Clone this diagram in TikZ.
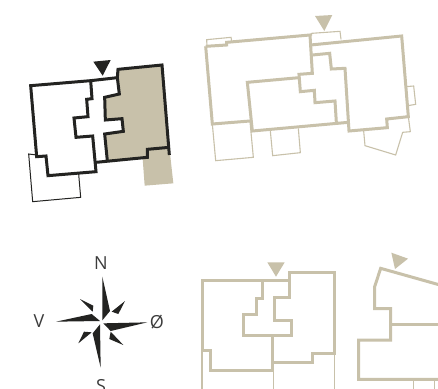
\documentclass[tikz,border=0pt]{standalone}
\usepackage{fontspec}
\setmainfont{Open Sans}
\definecolor{tan}{HTML}{C8C1AA}
\definecolor{ink}{HTML}{232321}
\definecolor{lab}{HTML}{3C3C3C}
\tikzset{
  zoomed/.style={x=0.33333pt,y=-0.33333pt},
  wallk/.style={draw=ink,line width=3pt,line join=miter},
  think/.style={draw=ink,line width=1pt,line join=miter},
  wallt/.style={draw=tan,line width=3pt,line join=miter},
  thint/.style={draw=tan,line width=1.1pt,line join=miter},
  lbl/.style={text=lab,font=\fontsize{18}{21}\selectfont,inner sep=0pt}
}
\begin{document}
\begin{tikzpicture}[x=1pt,y=-1pt]
\clip (0,0) rectangle (438,388);
\fill[white] (0,0) rectangle (438,388);
% plan 1
\begin{scope}[xshift=10pt,yshift=-40pt,zoomed]
\fill[tan] (324,88)--(456,75)--(478,322)--(490,430)--(404,437)--(398,356)--(292,362)--(284,282)--(340,274)--(336,236)--(286,240)--(284,172)--(328,162)--cycle;
\draw[think] (80,345)--(56,342)--(68,485)--(212,472)--(206,402);
\draw[wallk] (62,137)--(242,122)--(246,176)--(230,178)--(234,230)--(192,234)--(198,292)--(248,288)--(258,395)--(114,407)--(108,348)--(80,350)--cycle;
\draw[wallk] (242,122)--(322,113)--(324,88)--(456,75)--(478,345);
\draw[wallk] (478,322)--(412,328)--(412,352)--(258,367);
\draw[wallk] (322,113)--(328,162)--(284,172)--(286,240)--(336,236)--(340,274)--(284,282)--(292,362);
\fill[ink] (250,65)--(302,60)--(278,107)--cycle;
\end{scope}
% plan 2, left part
\begin{scope}[xshift=195pt,yshift=-5pt,zoomed]
\draw[thint] (36,125)--(35,104)--(108,97)--(110,108);
\draw[thint] (52,357)--(62,467)--(175,457)--(165,350);
\draw[thint] (226,378)--(233,452)--(316,443)--(310,370);
\draw[wallt] (32,124)--(95,120)--(95,112)--(345,90)--(352,205)--(312,208)--(316,260)--(358,256)--(360,293)--(420,288)--(424,352);
\draw[wallt] (32,124)--(52,357)--(165,348);
\draw[wallt] (312,218)--(157,232)--(172,378)--(460,352);
\draw[wallt] (347,120)--(620,93)--(640,335)--(575,342)--(577,368)--(462,378)--(450,190)--(409,192)--(404,145)--(352,150);
\end{scope}
% plan 2, details on the right
\begin{scope}[xshift=295pt,yshift=-5pt,zoomed]
\draw[thint] (50,92)--(50,85)--(135,79)--(138,103);
\draw[thint] (333,245)--(356,243)--(362,298)--(338,302);
\draw[thint] (206,378)--(210,422)--(302,450)--(323,382)--(346,380)--(340,335);
\fill[tan] (60,33)--(112,30)--(88,78)--cycle;
\end{scope}
% plan 3
\begin{scope}[xshift=190pt,yshift=-250pt,zoomed]
\draw[thint] (36,305)--(36,420);
\draw[thint] (250,360)--(250,420);
\draw[thint] (434,310)--(434,420);
\draw[wallt] (218,92)--(218,146)--(200,146)--(200,192)--(160,192)--(160,255)--(248,255)--(248,360)--(62,360)--(62,300)--(36,300)--(36,90)--(298,90)--(298,66)--(434,66)--(434,310)--(368,310)--(368,337)--(248,337);
\draw[wallt] (298,90)--(298,142)--(254,142)--(254,212)--(304,212)--(304,255)--(248,255);
\fill[tan] (232,37)--(284,37)--(258,80)--cycle;
\end{scope}
% plan 4
\begin{scope}[xshift=340pt,yshift=-240pt,zoomed]
\draw[thint] (220,418)--(220,450);
\draw[thint] (284,418)--(284,450);
\draw[wallt] (300,135)--(122,85)--(104,140)--(104,206)--(152,206)--(152,300)--(56,300)--(56,418)--(300,418);
\draw[wallt] (152,253)--(300,253);
\fill[tan] (154,38)--(204,56)--(165,87)--cycle;
\end{scope}
% compass
\begin{scope}[xshift=20pt,yshift=-245pt,zoomed]
\fill[ink] (247,95)--(270,198)--(247,226)--cycle;
\fill[ink] (382,232)--(272,258)--(250,235)--cycle;
\fill[ink] (242,368)--(218,265)--(240,238)--cycle;
\fill[ink] (108,230)--(215,207)--(240,228)--cycle;
\fill[ink] (315,168)--(295,207)--(275,200)--cycle;
\fill[ink] (180,162)--(220,182)--(218,200)--cycle;
\fill[ink] (310,300)--(268,282)--(272,260)--cycle;
\fill[ink] (175,295)--(192,260)--(215,262)--cycle;
\end{scope}
\node[lbl] (n) at (101,263) {N};
\node[lbl] (v) at (39,321) {V};
\node[lbl] (o) at (157,322) {Ø};
\node[lbl] (s) at (101,386) {S};
\end{tikzpicture}
\end{document}
